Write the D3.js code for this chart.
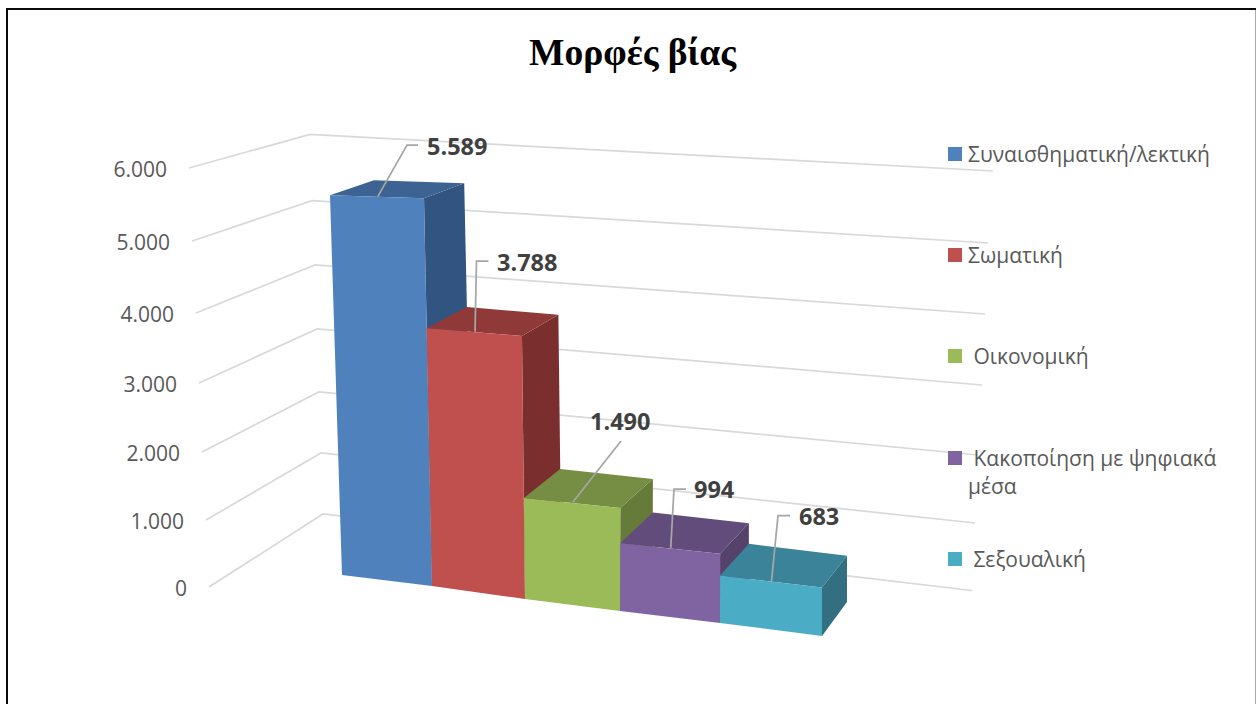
<!DOCTYPE html>
<html lang="el">
<head>
<meta charset="utf-8">
<title>Μορφές βίας</title>
<script src="https://cdn.jsdelivr.net/npm/d3@7"></script>
<style>
html,body{margin:0;padding:0;background:#fff;overflow:hidden}
svg{display:block}
text{white-space:pre}
</style>
</head>
<body>
<svg id="chart" width="1256" height="704"></svg>
<script>
// ---- data ----
const chartTitle = "Μορφές βίας";
const categories = ["Συναισθηματική/λεκτική", "Σωματική", "Οικονομική", "Κακοποίηση με ψηφιακά μέσα", "Σεξουαλική"];
const values = [5589, 3788, 1490, 994, 683];
const tickValues = [0, 1000, 2000, 3000, 4000, 5000, 6000];
const legendLines = [["Συναισθηματική/λεκτική"], ["Σωματική"], [" Οικονομική"], [" Κακοποίηση με ψηφιακά", "μέσα"], [" Σεξουαλική"]];

// ---- style ----
const frontColors = ["#4f81bd", "#c0504d", "#9bbb59", "#8064a2", "#4bacc6"];
const topColors   = ["#3c6392", "#8f3a38", "#768e43", "#614c7b", "#3a8399"];
const sideColors  = ["#325480", "#7a2f2e", "#667a3a", "#54426b", "#326f80"];

// ---- perspective scales ----
const boundaries = [0, 1, 2, 3, 4, 5];
const baseX = d3.scaleLinear().domain(boundaries).range([342, 432, 525, 620, 720, 822]);
const baseY = d3.scaleLinear().domain(boundaries).range([575, 586, 599, 611, 623, 636]);
const heightAt = d3.scaleLinear().domain(tickValues).range([0, 67.6, 138, 209, 281, 355, 431]);
const sizeAt = d3.scaleLinear().domain([0, 5]).range([0.95, 1.05]);
const lean = d3.scaleLinear().domain([0, 1, 2, 3, 5]).range([-0.00215, -0.00143, -0.0008, 0.0002, 0]);
const depthX = d3.scaleLinear().domain([0, 5]).range([44, 25]);
const depthY = d3.scaleLinear().domain([0, 5589]).range([-34, -15]);

function project(u, v, w) {
  const x = baseX(u) + lean(u) * v;
  const y = baseY(u) - sizeAt(u) * heightAt(v);
  return [x + w * depthX(u), y + w * depthY(v)];
}

// gridline vertices (side wall front, back corner, back wall end) by value
const wallFrontX = d3.scaleLinear().domain(tickValues).range([209, 206, 202, 199, 196, 192, 189]);
const wallFrontY = d3.scaleLinear().domain(tickValues).range([587, 520, 452, 383, 313, 241, 168]);
const cornerX = d3.scaleLinear().domain(tickValues).range([323, 321, 319, 317, 315, 312, 310]);
const cornerY = d3.scaleLinear().domain(tickValues).range([514, 453, 392, 329, 265, 200.7, 134.5]);
const wallEndX = d3.scaleLinear().domain(tickValues).range([972, 975, 978, 982, 985, 988, 993]);
const wallEndY = d3.scaleLinear().domain(tickValues).range([590.5, 523, 455, 385, 314, 243, 171]);

const numFormat = d3.formatLocale({decimal: ",", thousands: ".", grouping: [3], currency: ["", "€"]}).format(",d");

const svg = d3.select("#chart");
const sansFont = "'Open Sans', 'Noto Sans', sans-serif";

// ---- frame ----
svg.append("rect").attr("width", 1256).attr("height", 704).attr("fill", "#fff");
svg.append("path").attr("d", "M7,704V9H1256").attr("fill", "none").attr("stroke", "#0a0a0a").attr("stroke-width", 2);
svg.append("line").attr("x1", 1255.5).attr("x2", 1255.5).attr("y1", 10).attr("y2", 704).attr("stroke", "#a8a8a8").attr("stroke-width", 1);

// ---- title ----
svg.append("text").attr("x", 632.5).attr("y", 65).attr("text-anchor", "middle")
  .attr("font-family", "'Liberation Serif', serif").attr("font-weight", 700).attr("font-size", 37.5)
  .attr("fill", "#000").text(chartTitle);

// ---- gridlines ----
svg.append("g").selectAll("polyline").data(tickValues).join("polyline")
  .attr("points", t => [[wallFrontX(t), wallFrontY(t)], [cornerX(t), cornerY(t)], [wallEndX(t), wallEndY(t)]].join(" "))
  .attr("fill", "none").attr("stroke", "#d9d9d9").attr("stroke-width", 1.75);

// ---- value axis labels ----
svg.append("g").selectAll("text").data(tickValues).join("text")
  .attr("x", t => wallFrontX(t) - 22)
  .attr("y", t => wallFrontY(t) + 8.5)
  .attr("text-anchor", "end")
  .attr("font-family", sansFont).attr("font-size", 21).attr("fill", "#595959")
  .text(t => numFormat(t));

// ---- bars ----
const line = d3.line();
const bars = svg.append("g").selectAll("g").data(values).join("g");
bars.append("path").attr("fill", (d, i) => sideColors[i])
  .attr("d", (d, i) => line([project(i + 1, d, 0), project(i + 1, d, 1), project(i + 1, 0, 1), project(i + 1, 0, 0)]) + "Z");
bars.append("path").attr("fill", (d, i) => topColors[i])
  .attr("d", (d, i) => line([project(i, d, 0), project(i, d, 1), project(i + 1, d, 1), project(i + 1, d, 0)]) + "Z");
bars.append("path").attr("fill", (d, i) => frontColors[i])
  .attr("d", (d, i) => line([project(i, d, 0), project(i + 1, d, 0), project(i + 1, 0, 0), project(i, 0, 0)]) + "Z");

// ---- data labels with leader lines ----
const labelElbow = [[407, 145], [476.5, 261], [621, 441], [674, 489], [778, 515.5]];
const labelStub = [11, 12, 0, 12, 12];
const labelPos = [[427, 154.5], [497, 271], [590, 430], [694, 498], [799, 525]];
svg.append("g").selectAll("polyline").data(values).join("polyline")
  .attr("points", (d, i) => {
    const a = project(i + 0.5, d, 0.02), e = labelElbow[i];
    return [a, e, [e[0] + labelStub[i], e[1]]].join(" ");
  })
  .attr("fill", "none").attr("stroke", "#a6a6a6").attr("stroke-width", 1.75);
svg.append("g").selectAll("text").data(values).join("text")
  .attr("x", (d, i) => labelPos[i][0]).attr("y", (d, i) => labelPos[i][1])
  .attr("font-family", sansFont).attr("font-weight", 700).attr("font-size", 23.5).attr("fill", "#404040")
  .text(d => numFormat(d));

// ---- legend ----
const legendY = [161, 262, 363, 465, 566];
const legend = svg.append("g").selectAll("g").data(categories).join("g");
legend.append("rect").attr("x", 948).attr("y", (d, i) => legendY[i] - 14)
  .attr("width", 14).attr("height", 14).attr("fill", (d, i) => frontColors[i]);
legend.each(function (d, i) {
  d3.select(this).selectAll("text").data(legendLines[i]).join("text")
    .attr("x", 968).attr("y", (l, j) => legendY[i] + 0.5 + j * 28)
    .attr("font-family", sansFont).attr("font-size", 21).attr("fill", "#595959")
    .text(l => l);
});
</script>
</body>
</html>
